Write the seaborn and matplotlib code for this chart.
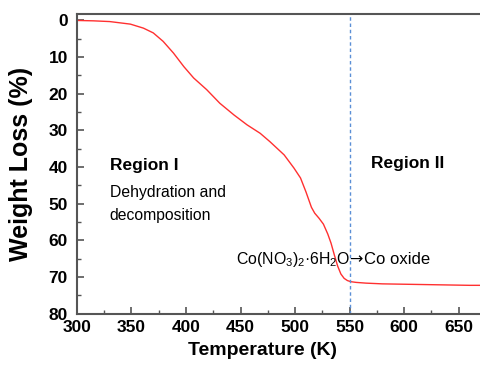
import matplotlib
matplotlib.use("Agg")
import matplotlib.pyplot as plt
import seaborn as sns
import pandas as pd
from matplotlib.ticker import MultipleLocator

temperature = [300, 315, 330, 349, 361, 370, 379, 388.5, 398, 407, 419, 431, 444, 456, 468,
               477, 490, 499, 505, 510, 515, 518, 522, 526, 530, 533, 536, 539, 542, 545,
               548, 551, 556, 565, 580, 600, 620, 640, 660, 671]
weight_loss = [0, 0.1, 0.3, 1.0, 2.1, 3.4, 5.7, 8.9, 12.6, 15.7, 18.9, 22.6, 25.8, 28.5, 30.8,
               33.1, 36.7, 40.3, 43.0, 46.8, 51.0, 52.6, 54.0, 55.6, 58.3, 60.8, 64.0, 67.0, 69.2, 70.4,
               71.0, 71.3, 71.5, 71.7, 71.9, 72.0, 72.1, 72.2, 72.3, 72.3]
transition_temp = 550
x_ticks = [300, 350, 400, 450, 500, 550, 600, 650]
y_ticks = [0, 10, 20, 30, 40, 50, 60, 70, 80]

sns.set_style("white")
plt.rcParams['font.family'] = ['Liberation Sans', 'DejaVu Sans']
plt.rcParams['mathtext.fontset'] = 'custom'
plt.rcParams['mathtext.rm'] = 'Liberation Sans'
plt.rcParams['text.color'] = 'black'
plt.rcParams['axes.labelcolor'] = 'black'

df = pd.DataFrame({"T": temperature, "loss": weight_loss})

fig = plt.figure(figsize=(4.81, 3.65), dpi=100)
ax = fig.add_axes([0.160, 0.141, 0.840, 0.821])

sns.lineplot(data=df, x="T", y="loss", ax=ax, color="#ff3030", linewidth=1.0)
ax.axvline(transition_temp, color="#5b8fd6", linestyle=(0, (2.5, 2)), linewidth=1.0)

ax.set_xlim(300, 670.5)
ax.set_ylim(80, -1.8)
ax.set_xticks(x_ticks)
ax.set_yticks(y_ticks)
ax.xaxis.set_minor_locator(MultipleLocator(25))
ax.yaxis.set_minor_locator(MultipleLocator(5))
ax.tick_params(which='major', direction='in', length=5, width=1.2, color='#555555',
               labelcolor='black', labelsize=12.5, top=False, right=False, bottom=True, left=True)
ax.tick_params(axis='x', which='major', pad=4.5)
ax.tick_params(axis='y', which='major', pad=6.5)
ax.tick_params(which='minor', direction='in', length=3, width=1.0, color='#555555',
               top=False, right=False, bottom=True, left=True)
for lab in ax.get_xticklabels() + ax.get_yticklabels():
    lab.set_fontweight('bold')

for side in ['left', 'bottom', 'top']:
    ax.spines[side].set_color('#555555')
    ax.spines[side].set_linewidth(1.5)
ax.spines['right'].set_visible(False)

ax.set_xlabel("Temperature (K)", fontsize=14, fontweight='bold')
ax.set_ylabel("Weight Loss (%)", fontsize=18, fontweight='bold')
ax.xaxis.set_label_coords(0.458, -0.0945)
ax.yaxis.set_label_coords(-0.109, 0.5)

ax.text(330, 40.8, "Region I", fontsize=12.5, fontweight='bold', va='baseline', ha='left')
ax.text(330, 48.3, "Dehydration and", fontsize=11.3, va='baseline', ha='left')
ax.text(330, 54.5, "decomposition", fontsize=11.3, va='baseline', ha='left')
ax.text(636.4, 40.3, "Region II", fontsize=12.5, fontweight='bold', va='baseline', ha='right')
ax.text(446, 66.5, r"Co(NO$_3$)$_2$·6H$_2$O", fontsize=11.4, va='baseline', ha='left')
ax.text(549.8, 66.5, "→", fontsize=11.5, va='baseline', ha='left', family=['DejaVu Sans'])
ax.text(563, 66.5, "Co oxide", fontsize=12, va='baseline', ha='left')

fig.savefig("out.png", dpi=100)
